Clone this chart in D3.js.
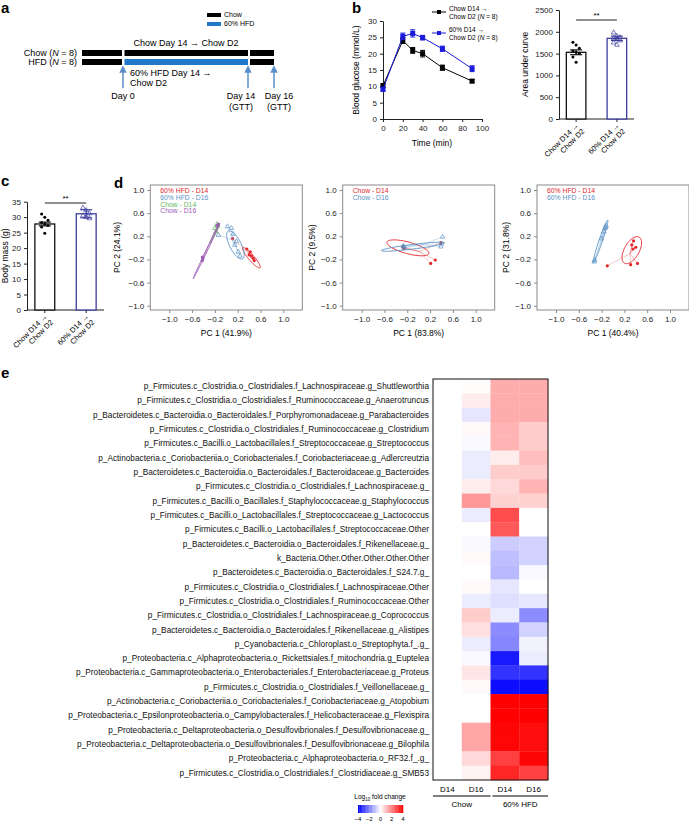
<!DOCTYPE html>
<html><head><meta charset="utf-8">
<script src="https://cdn.jsdelivr.net/npm/d3@7"></script>
<style>body{margin:0;background:#fff} svg{font-family:"Liberation Sans",Arial,sans-serif}</style>
</head><body><svg id="c" width="689" height="822"></svg>
<script>
// ---------------- DATA ----------------
const gttTimes = [0, 20, 30, 40, 60, 90];
const gttChow = [10.2, 24.0, 21.0, 20.0, 15.7, 11.6];
const gttChowErr = [0.6, 0.9, 0.9, 1.0, 0.8, 0.5];
const gttHfd = [9.1, 25.3, 26.2, 24.9, 21.5, 15.4];
const gttHfdErr = [0.6, 1.0, 1.1, 0.7, 0.8, 0.9];
const gttXTicks = [0, 20, 40, 60, 80, 100];
const gttYTicks = [0, 5, 10, 15, 20, 25, 30];

const groupLabels = [["Chow D14 →", "Chow D2"], ["60% D14 →", "Chow D2"]];
const aucMeans = [1530, 1850];
const aucErr = [55, 50];
const aucChowPts = [1760, 1700, 1620, 1560, 1530, 1500, 1420, 1300];
const aucHfdPts = [1980, 1900, 1870, 1850, 1830, 1800, 1750, 1700];
const aucYTicks = [0, 500, 1000, 1500, 2000, 2500];

const massMeans = [27.8, 31.1];
const massErr = [0.6, 1.3];
const massChowPts = [31.0, 30.0, 29.0, 28.3, 27.8, 27.3, 26.8, 24.8];
const massHfdPts = [33.0, 32.2, 31.2, 30.5, 30.0, 29.6];
const massYTicks = [0, 5, 10, 15, 20, 25, 30, 35];

const pcaTicks = [-1.0, -0.6, -0.2, 0.2, 0.6, 1.0];
const pca1Label = ["PC 1 (41.9%)", "PC 2 (24.1%)"];
const pca2Label = ["PC 1 (83.8%)", "PC 2 (9.5%)"];
const pca3Label = ["PC 1 (40.4%)", "PC 2 (31.8%)"];
// groups: name, colour key, points, ellipse [cx, cy, rx, ry, angleDeg]
const pca1Groups = [
  {name: "60% HFD - D14", col: "red", shape: "circle",
   pts: [[0.36,-0.02],[0.42,-0.07],[0.44,-0.14],[0.47,-0.18],[0.49,-0.22],[0.40,-0.12],[0.11,0.16]],
   ell: [0.44,-0.17,0.23,0.05,-49]},
  {name: "60% HFD - D16", col: "blue", shape: "tri",
   pts: [[0.02,0.37],[0.09,0.34],[0.12,0.24],[0.15,0.05],[0.21,-0.07],[0.24,-0.14],[-0.14,0.22],[0.18,0.11]],
   ell: [0.16,0.05,0.27,0.1,-62]},
  {name: "Chow - D14", col: "green", shape: "tri",
   pts: [[-0.18,0.28],[-0.2,0.34],[-0.16,0.41],[-0.15,0.38]],
   ell: [-0.2,0.25,0.19,0.012,63]},
  {name: "Chow - D16", col: "purple", shape: "circle",
   pts: [[-0.14,0.41],[-0.16,0.39],[-0.42,-0.16],[-0.42,-0.22],[-0.41,-0.19]],
   ell: [-0.35,-0.06,0.53,0.012,64]}
];
const pca2Groups = [
  {name: "Chow - D14", col: "red", shape: "circle",
   pts: [[0.21,-0.27],[0.29,-0.21],[0.39,0.09],[-0.27,0.0],[-0.28,0.02],[-0.26,-0.01]],
   ell: [-0.19,0.0,0.38,0.1,-15]},
  {name: "Chow - D16", col: "blue", shape: "tri",
   pts: [[0.42,0.19],[0.40,0.07],[0.39,0.02],[-0.26,0.02],[-0.25,0.0],[-0.27,0.03]],
   ell: [-0.1,0.02,0.56,0.04,7]}
];
const pca3Groups = [
  {name: "60% HFD - D14", col: "red", shape: "circle",
   pts: [[0.36,0.12],[0.33,0.05],[0.40,0.01],[0.35,-0.02],[0.31,-0.29],[0.43,-0.27],[-0.1,-0.31]],
   ell: [0.33,-0.04,0.26,0.13,60]},
  {name: "60% HFD - D16", col: "blue", shape: "tri",
   pts: [[-0.33,-0.24],[-0.32,-0.21],[-0.2,0.16],[-0.14,0.34],[-0.12,0.38],[-0.16,0.28],[-0.13,0.36]],
   ell: [-0.22,0.11,0.39,0.03,71]}
];

const taxa = [
 "p_Firmicutes.c_Clostridia.o_Clostridiales.f_Lachnospiraceae.g_Shuttleworthia",
 "p_Firmicutes.c_Clostridia.o_Clostridiales.f_Ruminococcaceae.g_Anaerotruncus",
 "p_Bacteroidetes.c_Bacteroidia.o_Bacteroidales.f_Porphyromonadaceae.g_Parabacteroides",
 "p_Firmicutes.c_Clostridia.o_Clostridiales.f_Ruminococcaceae.g_Clostridium",
 "p_Firmicutes.c_Bacilli.o_Lactobacillales.f_Streptococcaceae.g_Streptococcus",
 "p_Actinobacteria.c_Coriobacteriia.o_Coriobacteriales.f_Coriobacteriaceae.g_Adlercreutzia",
 "p_Bacteroidetes.c_Bacteroidia.o_Bacteroidales.f_Bacteroidaceae.g_Bacteroides",
 "p_Firmicutes.c_Clostridia.o_Clostridiales.f_Lachnospiraceae.g_",
 "p_Firmicutes.c_Bacilli.o_Bacillales.f_Staphylococcaceae.g_Staphylococcus",
 "p_Firmicutes.c_Bacilli.o_Lactobacillales.f_Streptococcaceae.g_Lactococcus",
 "p_Firmicutes.c_Bacilli.o_Lactobacillales.f_Streptococcaceae.Other",
 "p_Bacteroidetes.c_Bacteroidia.o_Bacteroidales.f_Rikenellaceae.g_",
 "k_Bacteria.Other.Other.Other.Other.Other",
 "p_Bacteroidetes.c_Bacteroidia.o_Bacteroidales.f_S24.7.g_",
 "p_Firmicutes.c_Clostridia.o_Clostridiales.f_Lachnospiraceae.Other",
 "p_Firmicutes.c_Clostridia.o_Clostridiales.f_Ruminococcaceae.Other",
 "p_Firmicutes.c_Clostridia.o_Clostridiales.f_Lachnospiraceae.g_Coprococcus",
 "p_Bacteroidetes.c_Bacteroidia.o_Bacteroidales.f_Rikenellaceae.g_Alistipes",
 "p_Cyanobacteria.c_Chloroplast.o_Streptophyta.f_.g_",
 "p_Proteobacteria.c_Alphaproteobacteria.o_Rickettsiales.f_mitochondria.g_Euptelea",
 "p_Proteobacteria.c_Gammaproteobacteria.o_Enterobacteriales.f_Enterobacteriaceae.g_Proteus",
 "p_Firmicutes.c_Clostridia.o_Clostridiales.f_Veillonellaceae.g_",
 "p_Actinobacteria.c_Coriobacteriia.o_Coriobacteriales.f_Coriobacteriaceae.g_Atopobium",
 "p_Proteobacteria.c_Epsilonproteobacteria.o_Campylobacterales.f_Helicobacteraceae.g_Flexispira",
 "p_Proteobacteria.c_Deltaproteobacteria.o_Desulfovibrionales.f_Desulfovibrionaceae.g_",
 "p_Proteobacteria.c_Deltaproteobacteria.o_Desulfovibrionales.f_Desulfovibrionaceae.g_Bilophila",
 "p_Proteobacteria.c_Alphaproteobacteria.o_RF32.f_.g_",
 "p_Firmicutes.c_Clostridia.o_Clostridiales.f_Clostridiaceae.g_SMB53"
];
const heatCols = ["Chow D14", "Chow D16", "HFD D14", "HFD D16"];
const heatColLabels = ["D14", "D16", "D14", "D16"];
const fcChowD14 = [0,0,0,0,0,0,0,0,0,0,0,0,0,0,0,0,0,0,0,0,0,0,0,0,0,0,0,0];
const fcChowD16 = [0.05,0.3,-0.4,0.1,-0.1,-0.3,-0.3,0.3,1.6,-0.3,0,-0.1,0.1,0,0.1,-0.3,0.8,0.5,-0.3,-0.1,0.4,0.1,0,0,1.4,1.4,0.6,0.2];
const fcHfdD14 = [1.3,1.3,1.3,1.2,1.2,0.3,0.8,0.6,0.7,2.8,2.6,-0.8,-1.0,-1.1,-0.4,-0.5,-0.3,-1.8,-1.9,-3.6,-3.2,-3.8,4,4,3.9,3.9,3.0,3.4];
const fcHfdD16 = [1.3,1.3,1.3,0.8,0.8,1.0,0.8,1.2,0.7,0,0,-0.7,-0.7,-0.1,0,-0.4,-1.8,-0.7,-0.2,-0.3,-3.2,-3.8,4,4,3.8,3.8,3.9,3.0];
const legendTicks = [-4, -2, 0, 2, 4];

// ---------------- DRAW ----------------
const svg = d3.select("#c");
const FONT = '"Liberation Sans",Arial,sans-serif';
const colours = {red: "#e2262b", blue: "#5a92c6", green: "#63b95c", purple: "#9e5cb5"};
const navy = "#3d3d9e";

function panelLabel(t, x, y) {
  svg.append("text").attr("x", x).attr("y", y).attr("font-size", 15).attr("font-weight", "bold").text(t);
}
function styleAxis(g, fs) {
  g.selectAll("text").attr("font-size", fs).attr("font-family", FONT).attr("fill", "#222");
  g.selectAll("line,path").attr("stroke", "#222");
}

// ---- Panel a ----
panelLabel("a", 1, 13);
svg.append("rect").attr("x", 207).attr("y", 13).attr("width", 14).attr("height", 4).attr("fill", "#000");
svg.append("text").attr("x", 224).attr("y", 17).attr("font-size", 7).text("Chow");
svg.append("rect").attr("x", 207).attr("y", 22).attr("width", 14).attr("height", 4).attr("fill", "#1f78c8");
svg.append("text").attr("x", 224).attr("y", 26).attr("font-size", 7).text("60% HFD");
const rowA = [{lab: "Chow", y: 50, segs: ["#000", "#000", "#000"]}, {lab: "HFD", y: 59, segs: ["#000", "#1f78c8", "#000"]}];
const segX = [[82, 122], [124.5, 248], [250, 274]];
rowA.forEach(r => {
  const t = svg.append("text").attr("x", 77).attr("y", r.y + 6).attr("text-anchor", "end").attr("font-size", 9);
  t.append("tspan").text(r.lab + " (");
  t.append("tspan").attr("font-style", "italic").text("N");
  t.append("tspan").text(" = 8)");
  segX.forEach((s, i) => svg.append("rect").attr("x", s[0]).attr("y", r.y).attr("width", s[1] - s[0]).attr("height", 6).attr("fill", r.segs[i]));
});
svg.append("text").attr("x", 186).attr("y", 46).attr("text-anchor", "middle").attr("font-size", 9).text("Chow Day 14 → Chow D2");
const defs = svg.append("defs");
defs.append("marker").attr("id", "ah").attr("viewBox", "0 0 10 10").attr("refX", 5).attr("refY", 5)
  .attr("markerWidth", 5).attr("markerHeight", 5).attr("orient", "auto")
  .append("path").attr("d", "M0,0 L10,5 L0,10 z").attr("fill", "#5b8fc8");
[123, 248, 274].forEach(x => {
  svg.append("line").attr("x1", x).attr("x2", x).attr("y1", 88).attr("y2", 69).attr("stroke", "#5b8fc8").attr("stroke-width", 1.5).attr("marker-end", "url(#ah)");
});
svg.append("text").attr("x", 130).attr("y", 76).attr("font-size", 9).text("60% HFD Day 14 →");
svg.append("text").attr("x", 130).attr("y", 86).attr("font-size", 9).text("Chow D2");
svg.append("text").attr("x", 123).attr("y", 99).attr("text-anchor", "middle").attr("font-size", 9).text("Day 0");
svg.append("text").attr("x", 241).attr("y", 99).attr("text-anchor", "middle").attr("font-size", 9).text("Day 14");
svg.append("text").attr("x", 241).attr("y", 110).attr("text-anchor", "middle").attr("font-size", 9).text("(GTT)");
svg.append("text").attr("x", 279).attr("y", 99).attr("text-anchor", "middle").attr("font-size", 9).text("Day 16");
svg.append("text").attr("x", 279).attr("y", 110).attr("text-anchor", "middle").attr("font-size", 9).text("(GTT)");

// ---- Panel b line ----
panelLabel("b", 352, 13);
const bx = d3.scaleLinear().domain([0, 100]).range([383, 482]);
const by = d3.scaleLinear().domain([0, 30]).range([119, 21]);
let g = svg.append("g").attr("transform", "translate(0,119)").call(d3.axisBottom(bx).tickValues(gttXTicks).tickSize(3).tickSizeOuter(0));
styleAxis(g, 8);
g = svg.append("g").attr("transform", "translate(383,0)").call(d3.axisLeft(by).tickValues(gttYTicks).tickSize(3).tickSizeOuter(0));
styleAxis(g, 8);
svg.append("text").attr("transform", "translate(359,70) rotate(-90)").attr("text-anchor", "middle").attr("font-size", 8.5).text("Blood glucose (mmol/L)");
svg.append("text").attr("x", 432).attr("y", 146).attr("text-anchor", "middle").attr("font-size", 8.5).text("Time (min)");
const series = [{v: gttChow, e: gttChowErr, c: "#000"}, {v: gttHfd, e: gttHfdErr, c: "#1a1adb"}];
series.forEach(s => {
  const pts = gttTimes.map((t, i) => [t, s.v[i], s.e[i]]);
  svg.append("path").datum(pts).attr("fill", "none").attr("stroke", s.c).attr("stroke-width", 1)
    .attr("d", d3.line().x(d => bx(d[0])).y(d => by(d[1])));
  pts.forEach(d => {
    const x = bx(d[0]);
    svg.append("line").attr("x1", x).attr("x2", x).attr("y1", by(d[1] - d[2])).attr("y2", by(d[1] + d[2])).attr("stroke", s.c);
    [d[1] - d[2], d[1] + d[2]].forEach(v => svg.append("line").attr("x1", x - 2.5).attr("x2", x + 2.5).attr("y1", by(v)).attr("y2", by(v)).attr("stroke", s.c));
    svg.append("rect").attr("x", x - 2.5).attr("y", by(d[1]) - 2.5).attr("width", 5).attr("height", 5).attr("fill", s.c);
  });
});
// legend
[{y: 12, c: "#000", l: ["Chow D14 →", "Chow D2 ("]}, {y: 33, c: "#1a1adb", l: ["60% D14 →", "Chow D2 ("]}].forEach(L => {
  svg.append("line").attr("x1", 432).attr("x2", 446).attr("y1", L.y).attr("y2", L.y).attr("stroke", L.c);
  svg.append("rect").attr("x", 437).attr("y", L.y - 2).attr("width", 4).attr("height", 4).attr("fill", L.c);
  svg.append("text").attr("x", 449).attr("y", L.y - 1).attr("font-size", 6.5).text(L.l[0]);
  const t = svg.append("text").attr("x", 449).attr("y", L.y + 7).attr("font-size", 6.5);
  t.append("tspan").text(L.l[1]);
  t.append("tspan").attr("font-style", "italic").text("N");
  t.append("tspan").text(" = 8)");
});

// ---- bar chart helper ----
function barChart(opt) {
  const y = d3.scaleLinear().domain(opt.domain).range([opt.y0, opt.y1]);
  const x = d3.scaleBand().domain([0, 1]).range([opt.xL, opt.xR]).paddingInner(opt.padIn).paddingOuter(opt.padOut);
  let ga = svg.append("g").attr("transform", `translate(${opt.axisX},0)`).call(d3.axisLeft(y).tickValues(opt.ticks).tickFormat(d3.format("d")).tickSize(3).tickSizeOuter(0));
  styleAxis(ga, 8);
  svg.append("line").attr("x1", opt.axisX).attr("x2", opt.xEnd).attr("y1", opt.y0).attr("y2", opt.y0).attr("stroke", "#222");
  const cols = ["#111", navy];
  opt.means.forEach((m, i) => {
    const bx0 = x(i), w = x.bandwidth(), cx = bx0 + w / 2;
    svg.append("line").attr("x1", cx).attr("x2", cx).attr("y1", opt.y0).attr("y2", opt.y0 + 3).attr("stroke", "#222");
    svg.append("rect").attr("x", bx0).attr("y", y(m)).attr("width", w).attr("height", opt.y0 - y(m))
      .attr("fill", "#fff").attr("stroke", cols[i]).attr("stroke-width", 1.3);
    const pts = i === 0 ? opt.p0 : opt.p1;
    pts.forEach((v, k) => {
      const jx = cx + ((k % 3) - 1) * 3.2;
      if (i === 0) svg.append("circle").attr("cx", jx).attr("cy", y(v)).attr("r", 1.5).attr("fill", "#000");
      else svg.append("path").attr("d", d3.symbol(d3.symbolTriangle, 10)()).attr("transform", `translate(${jx},${y(v)})`).attr("fill", "none").attr("stroke", navy).attr("stroke-width", 0.7);
    });
    const e = opt.err[i];
    svg.append("line").attr("x1", cx).attr("x2", cx).attr("y1", y(m - e)).attr("y2", y(m + e)).attr("stroke", cols[i]).attr("stroke-width", 1.2);
    [m - e, m + e].forEach(v => svg.append("line").attr("x1", cx - 6).attr("x2", cx + 6).attr("y1", y(v)).attr("y2", y(v)).attr("stroke", cols[i]).attr("stroke-width", 1.2));
    const t = svg.append("text").attr("transform", `translate(${cx + 3},${opt.y0 + 7}) rotate(-45)`).attr("text-anchor", "end").attr("font-size", 7.5);
    t.append("tspan").attr("x", 0).attr("dy", 0).text(groupLabels[i][0]);
    t.append("tspan").attr("x", 0).attr("dy", "1.1em").text(groupLabels[i][1]);
  });
  const c0 = x(0) + x.bandwidth() / 2, c1 = x(1) + x.bandwidth() / 2;
  svg.append("line").attr("x1", c0).attr("x2", c1).attr("y1", opt.sigY).attr("y2", opt.sigY).attr("stroke", "#222");
  svg.append("text").attr("x", (c0 + c1) / 2).attr("y", opt.sigY - 2).attr("text-anchor", "middle").attr("font-size", 8).text("**");
  svg.append("text").attr("transform", `translate(${opt.labX},${(opt.y0 + opt.y1) / 2}) rotate(-90)`).attr("text-anchor", "middle").attr("font-size", 8.5).text(opt.ylab);
}
barChart({domain: [0, 2500], y0: 119, y1: 10, xL: 559, xR: 634, padIn: 0.52, padOut: 0.18, axisX: 559, xEnd: 634,
  ticks: aucYTicks, means: aucMeans, err: aucErr, p0: aucChowPts, p1: aucHfdPts, sigY: 20, labX: 528, ylab: "Area under curve"});
panelLabel("c", 1, 186);
barChart({domain: [0, 35], y0: 310, y1: 201.7, xL: 27, xR: 104, padIn: 0.52, padOut: 0.19, axisX: 27, xEnd: 104,
  ticks: massYTicks, means: massMeans, err: massErr, p0: massChowPts, p1: massHfdPts, sigY: 203, labX: 8, ylab: "Body mass (g)"});

// ---- Panel d PCA ----
panelLabel("d", 114, 188);
function pca(opt) {
  const x = d3.scaleLinear().domain([-1, 1]).range([opt.xm1, opt.xm1 + 114]);
  const y = d3.scaleLinear().domain([-1, 1]).range([305.7, 190]);
  const fl = x.invert(opt.xm1 - 19), fr = x.invert(opt.xm1 + 133), ft = y.invert(185), fb = y.invert(310);
  svg.append("rect").attr("x", x(fl)).attr("y", y(ft)).attr("width", x(fr) - x(fl)).attr("height", y(fb) - y(ft))
    .attr("fill", "none").attr("stroke", "#8a8a8a").attr("stroke-width", 1);
  let ga = svg.append("g").attr("transform", `translate(0,${y(fb)})`).call(d3.axisBottom(x).tickValues(pcaTicks).tickFormat(d3.format(".1f")).tickSize(3).tickSizeOuter(0));
  styleAxis(ga, 8); ga.select(".domain").remove(); ga.selectAll("line").attr("stroke", "#8a8a8a");
  ga.selectAll("text").text(d => d3.format(".1f")(d).replace("-", "−"));
  ga = svg.append("g").attr("transform", `translate(${x(fl)},0)`).call(d3.axisLeft(y).tickValues(pcaTicks).tickFormat(d3.format(".1f")).tickSize(3).tickSizeOuter(0));
  styleAxis(ga, 8); ga.select(".domain").remove(); ga.selectAll("line").attr("stroke", "#8a8a8a");
  ga.selectAll("text").text(d => d3.format(".1f")(d).replace("-", "−"));
  svg.append("text").attr("x", (x(fl) + x(fr)) / 2).attr("y", 336).attr("text-anchor", "middle").attr("font-size", 8.5).text(opt.labels[0]);
  svg.append("text").attr("transform", `translate(${opt.ylabX},${(y(ft) + y(fb)) / 2}) rotate(-90)`).attr("text-anchor", "middle").attr("font-size", 8.5).text(opt.labels[1]);
  opt.groups.forEach((gr, gi) => {
    const c = colours[gr.col];
    svg.append("text").attr("x", x(fl) + 10).attr("y", 193 + gi * 6.8).attr("font-size", 6.8).attr("fill", c).text(gr.name);
    const [cx, cy, rx, ry, ang] = gr.ell;
    const a = ang * Math.PI / 180;
    const ep = d3.range(0, 361, 6).map(t => {
      const th = t * Math.PI / 180;
      const ex = rx * Math.cos(th), ey = ry * Math.sin(th);
      return [cx + ex * Math.cos(a) - ey * Math.sin(a), cy + ex * Math.sin(a) + ey * Math.cos(a)];
    });
    svg.append("path").datum(ep).attr("fill", "none").attr("stroke", c).attr("stroke-width", 0.9)
      .attr("d", d3.line().x(d => x(d[0])).y(d => y(d[1])));
    const mx = d3.mean(gr.pts, d => d[0]), my = d3.mean(gr.pts, d => d[1]);
    gr.pts.forEach(p => svg.append("line").attr("x1", x(mx)).attr("y1", y(my)).attr("x2", x(p[0])).attr("y2", y(p[1]))
      .attr("stroke", c).attr("stroke-opacity", 0.45).attr("stroke-width", 0.6));
    gr.pts.forEach(p => {
      if (gr.shape === "circle") svg.append("circle").attr("cx", x(p[0])).attr("cy", y(p[1])).attr("r", 1.6).attr("fill", c);
      else svg.append("path").attr("d", d3.symbol(d3.symbolTriangle, 9)()).attr("transform", `translate(${x(p[0])},${y(p[1])})`)
        .attr("fill", "none").attr("stroke", c).attr("stroke-width", 0.7);
    });
  });
}
pca({xm1: 169.3, groups: pca1Groups, labels: pca1Label, ylabX: 120});
pca({xm1: 361.7, groups: pca2Groups, labels: pca2Label, ylabX: 315});
pca({xm1: 556, groups: pca3Groups, labels: pca3Label, ylabX: 509});

// ---- Panel e heatmap ----
panelLabel("e", 1, 378);
const hx = d3.scaleBand().domain(heatCols).range([433, 548]);
const hy = d3.scaleBand().domain(taxa).range([379, 780]);
const hc = d3.scaleLinear().domain([-4, 0, 4]).range(["#0000ff", "#ffffff", "#ff0000"]).clamp(true);
const fcCols = [fcChowD14, fcChowD16, fcHfdD14, fcHfdD16];
taxa.forEach((t, r) => {
  fcCols.forEach((arr, ci) => {
    svg.append("rect").attr("x", hx(heatCols[ci])).attr("y", hy(t)).attr("width", hx.bandwidth() + 0.3).attr("height", hy.bandwidth() + 0.3).attr("fill", hc(arr[r]));
  });
  svg.append("text").attr("x", 429).attr("y", hy(t) + hy.bandwidth() / 2 + 2.9).attr("text-anchor", "end").attr("font-size", 8.28).attr("fill", "#111").text(t);
});
svg.append("rect").attr("x", 433).attr("y", 379).attr("width", 115).attr("height", 401).attr("fill", "none").attr("stroke", "#111").attr("stroke-width", 1);
heatCols.forEach((c, i) => svg.append("text").attr("x", hx(c) + hx.bandwidth() / 2).attr("y", 792).attr("text-anchor", "middle").attr("font-size", 8).text(heatColLabels[i]));
[["Chow", 433, 490.5], ["60% HFD", 492.5, 548]].forEach(gl => {
  svg.append("line").attr("x1", gl[1]).attr("x2", gl[2]).attr("y1", 796).attr("y2", 796).attr("stroke", "#555").attr("stroke-width", 1.5);
  svg.append("text").attr("x", (gl[1] + gl[2]) / 2).attr("y", 807).attr("text-anchor", "middle").attr("font-size", 8).text(gl[0]);
});
// legend
const lx = d3.scaleLinear().domain([-4, 4]).range([358, 403]);
const lt = svg.append("text").attr("x", 380).attr("y", 799).attr("text-anchor", "middle").attr("font-size", 6.5);
lt.append("tspan").text("Log");
lt.append("tspan").attr("font-size", 4.5).attr("dy", 2).text("10");
lt.append("tspan").attr("dy", -2).text(" fold change");
d3.range(-4, 4, 0.25).forEach(v => {
  svg.append("rect").attr("x", lx(v)).attr("y", 805).attr("width", lx(v + 0.25) - lx(v) + 0.3).attr("height", 8).attr("fill", hc(v + 0.125));
});
legendTicks.forEach(v => svg.append("text").attr("x", lx(v)).attr("y", 821).attr("text-anchor", "middle").attr("font-size", 6).text(String(v).replace("-", "−")));
</script></body></html>
